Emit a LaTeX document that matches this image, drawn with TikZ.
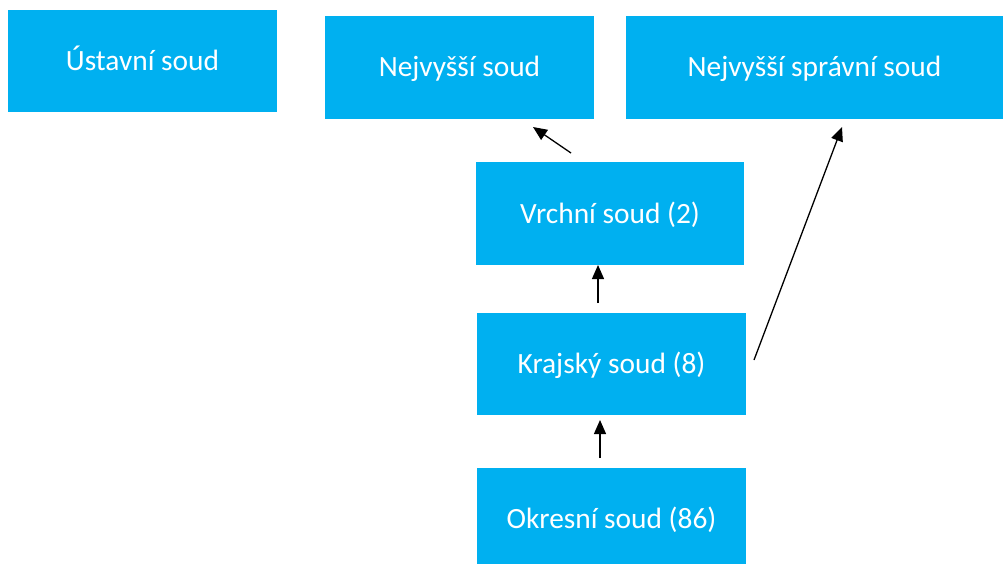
\documentclass[tikz,border=0pt]{standalone}
\usepackage{fontspec}
\setmainfont{Carlito}
\usetikzlibrary{arrows.meta}
\definecolor{courtblue}{HTML}{00B0F0}
\begin{document}
\begin{tikzpicture}[x=1pt,y=-1pt,
  court/.style={fill=courtblue,draw=none,text=white,inner sep=0pt,
    text height=22.5pt,text depth=3.5pt,
    font=\fontsize{29.4}{35}\selectfont},
  link/.style={line width=1.3pt,-{Triangle[length=14pt,width=12pt]}}]
\useasboundingbox (0,0) rectangle (1003,563);
\fill[white] (0,0) rectangle (1003,563);
\node[court,minimum width=269pt,minimum height=102pt] (us) at (142.5,61) {Ústavní soud};
\node[court,minimum width=269pt,minimum height=103pt] (ns) at (459.5,67) {Nejvyšší soud};
\node[court,minimum width=377pt,minimum height=103pt] (nss) at (814.5,67) {Nejvyšší správní soud};
\node[court,minimum width=268pt,minimum height=103pt] (vs) at (610,213.5) {Vrchní soud (2)};
\node[court,minimum width=269pt,minimum height=102pt] (ks) at (611.5,364) {Krajský soud (8)};
\node[court,minimum width=269pt,minimum height=102pt] (os) at (611.5,519) {Okresní soud (86)};
\coordinate (a1) at (571,153);
\coordinate (a1t) at (533,127);
\coordinate (a2) at (598,303);
\coordinate (a2t) at (598,265);
\coordinate (a3) at (754,360);
\coordinate (a3t) at (842,127);
\coordinate (a4) at (600,458);
\coordinate (a4t) at (600,420);
\draw[link] (a1) -- (a1t);
\draw[link] (a2) -- (a2t);
\draw[link] (a3) -- (a3t);
\draw[link] (a4) -- (a4t);
\end{tikzpicture}
\end{document}
